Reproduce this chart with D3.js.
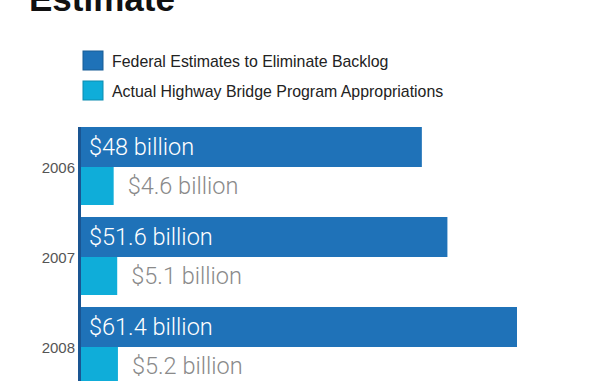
<!DOCTYPE html>
<meta charset="utf-8">
<style>
body { margin: 0; background: #fff; }
text { font-family: "Liberation Sans", Arial, Helvetica, sans-serif; }
.title { font-weight: bold; font-size: 35px; fill: #111; }
.legend text { font-size: 15.9px; fill: #222; }
.year { font-size: 15px; fill: #555; }
.val { font-size: 23.5px; font-family: "Helvetica Neue", Roboto, "Liberation Sans", sans-serif; font-weight: 300; }
</style>
<svg width="613" height="381"></svg>
<script src="https://d3js.org/d3.v7.min.js"></script>
<script>

var years = ["2006", "2007", "2008"];
var estimates = [48, 51.6, 61.4];
var appropriations = [4.6, 5.1, 5.2];
var seriesNames = ["Federal Estimates to Eliminate Backlog",
                   "Actual Highway Bridge Program Appropriations"];
var colors = ["#1f72b8", "#0fadd9"];

var svg = d3.select("svg");

var x0 = 81;
var x = d3.scaleLinear()
    .domain([0, 61.4])
    .range([x0, 517]);

var y = d3.scaleBand()
    .domain(years)
    .range([127, 127 + 90 * years.length])
    .paddingInner(0);

var darkH = 40, lightH = 38;

// title (cut off at the top)
svg.append("text")
    .attr("class", "title")
    .attr("x", 29)
    .attr("y", 11)
    .text("Estimate");

// legend
var legend = svg.append("g")
    .attr("class", "legend")
  .selectAll("g")
  .data(seriesNames)
  .enter().append("g")
    .attr("transform", function(d, i) { return "translate(83," + (51 + i * 30) + ")"; });

legend.append("rect")
    .attr("width", 20)
    .attr("height", 19)
    .attr("fill", function(d, i) { return colors[i]; })
    .attr("stroke", function(d, i) { return d3.color(colors[i]).darker(0.6); })
    .attr("stroke-width", 1);

legend.append("text")
    .attr("x", 29)
    .attr("y", 10)
    .attr("dy", "0.35em")
    .text(function(d) { return d; });

var groups = svg.append("g")
  .selectAll("g")
  .data(years)
  .enter().append("g")
    .attr("transform", function(d) { return "translate(0," + y(d) + ")"; });

// estimate bars
groups.append("rect")
    .attr("x", x0)
    .attr("y", 0)
    .attr("width", function(d, i) { return x(estimates[i]) - x0; })
    .attr("height", darkH)
    .attr("fill", colors[0]);

groups.append("text")
    .attr("class", "val")
    .attr("x", x0 + 8)
    .attr("y", darkH / 2)
    .attr("dy", "0.35em")
    .attr("fill", "#fff")
    .text(function(d, i) { return "$" + estimates[i] + " billion"; });

// appropriation bars
groups.append("rect")
    .attr("x", x0)
    .attr("y", darkH)
    .attr("width", function(d, i) { return x(appropriations[i]) - x0; })
    .attr("height", lightH)
    .attr("fill", colors[1]);

groups.append("text")
    .attr("class", "val")
    .attr("x", function(d, i) { return x(appropriations[i]) + 14; })
    .attr("y", darkH + lightH / 2)
    .attr("dy", "0.35em")
    .attr("fill", "#8a8a8a")
    .text(function(d, i) { return "$" + appropriations[i] + " billion"; });

// year labels
groups.append("text")
    .attr("class", "year")
    .attr("x", 75)
    .attr("y", darkH + 1)
    .attr("dy", "0.35em")
    .attr("text-anchor", "end")
    .text(function(d) { return d; });

// axis line
svg.append("line")
    .attr("x1", 79.5)
    .attr("x2", 79.5)
    .attr("y1", 127)
    .attr("y2", 381)
    .attr("stroke", "#1a5592")
    .attr("stroke-width", 3);

</script>
